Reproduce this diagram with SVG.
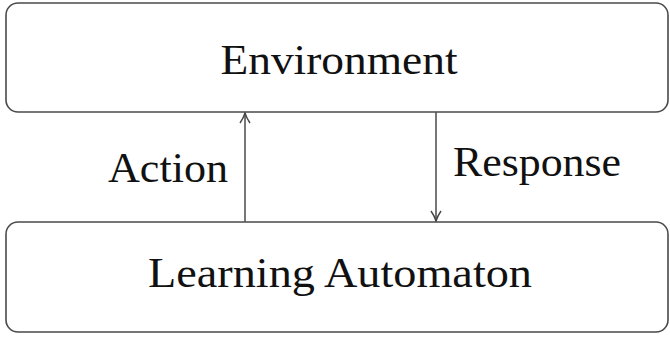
<svg xmlns="http://www.w3.org/2000/svg" width="670" height="337" viewBox="0 0 670 337">
<style>
.box{fill:#fff;stroke:#4a4a4a;stroke-width:1.6}
.lbl{font-family:"Liberation Serif","DejaVu Serif",serif;font-size:42px;fill:#111}
.conn{stroke:#555;stroke-width:1.6;fill:none}
</style>
<defs>
<marker id="arr" viewBox="0 0 12 12" refX="11" refY="6" markerWidth="12" markerHeight="12" markerUnits="userSpaceOnUse" orient="auto">
<path d="M1,1 Q6,4.5 11,6 Q6,7.5 1,11" fill="none" stroke="#444" stroke-width="1.4"/>
</marker>
</defs>
<rect width="670" height="337" fill="#fff"/>
<g id="environment">
<rect class="box" x="6" y="3" width="662" height="109" rx="12"/>
<text class="lbl" x="339" y="74" text-anchor="middle" textLength="237" lengthAdjust="spacingAndGlyphs">Environment</text>
</g>
<g id="learning-automaton">
<rect class="box" x="6" y="222" width="662" height="110" rx="12"/>
<text class="lbl" x="340" y="287" text-anchor="middle" textLength="384" lengthAdjust="spacingAndGlyphs">Learning Automaton</text>
</g>
<g id="connectors">
<line class="conn" x1="245" y1="222" x2="245" y2="113" marker-end="url(#arr)"/>
<line class="conn" x1="436" y1="112" x2="436" y2="221" marker-end="url(#arr)"/>
<text class="lbl" x="108" y="182" textLength="120" lengthAdjust="spacingAndGlyphs">Action</text>
<text class="lbl" x="453" y="176" textLength="168" lengthAdjust="spacingAndGlyphs">Response</text>
</g>
</svg>
